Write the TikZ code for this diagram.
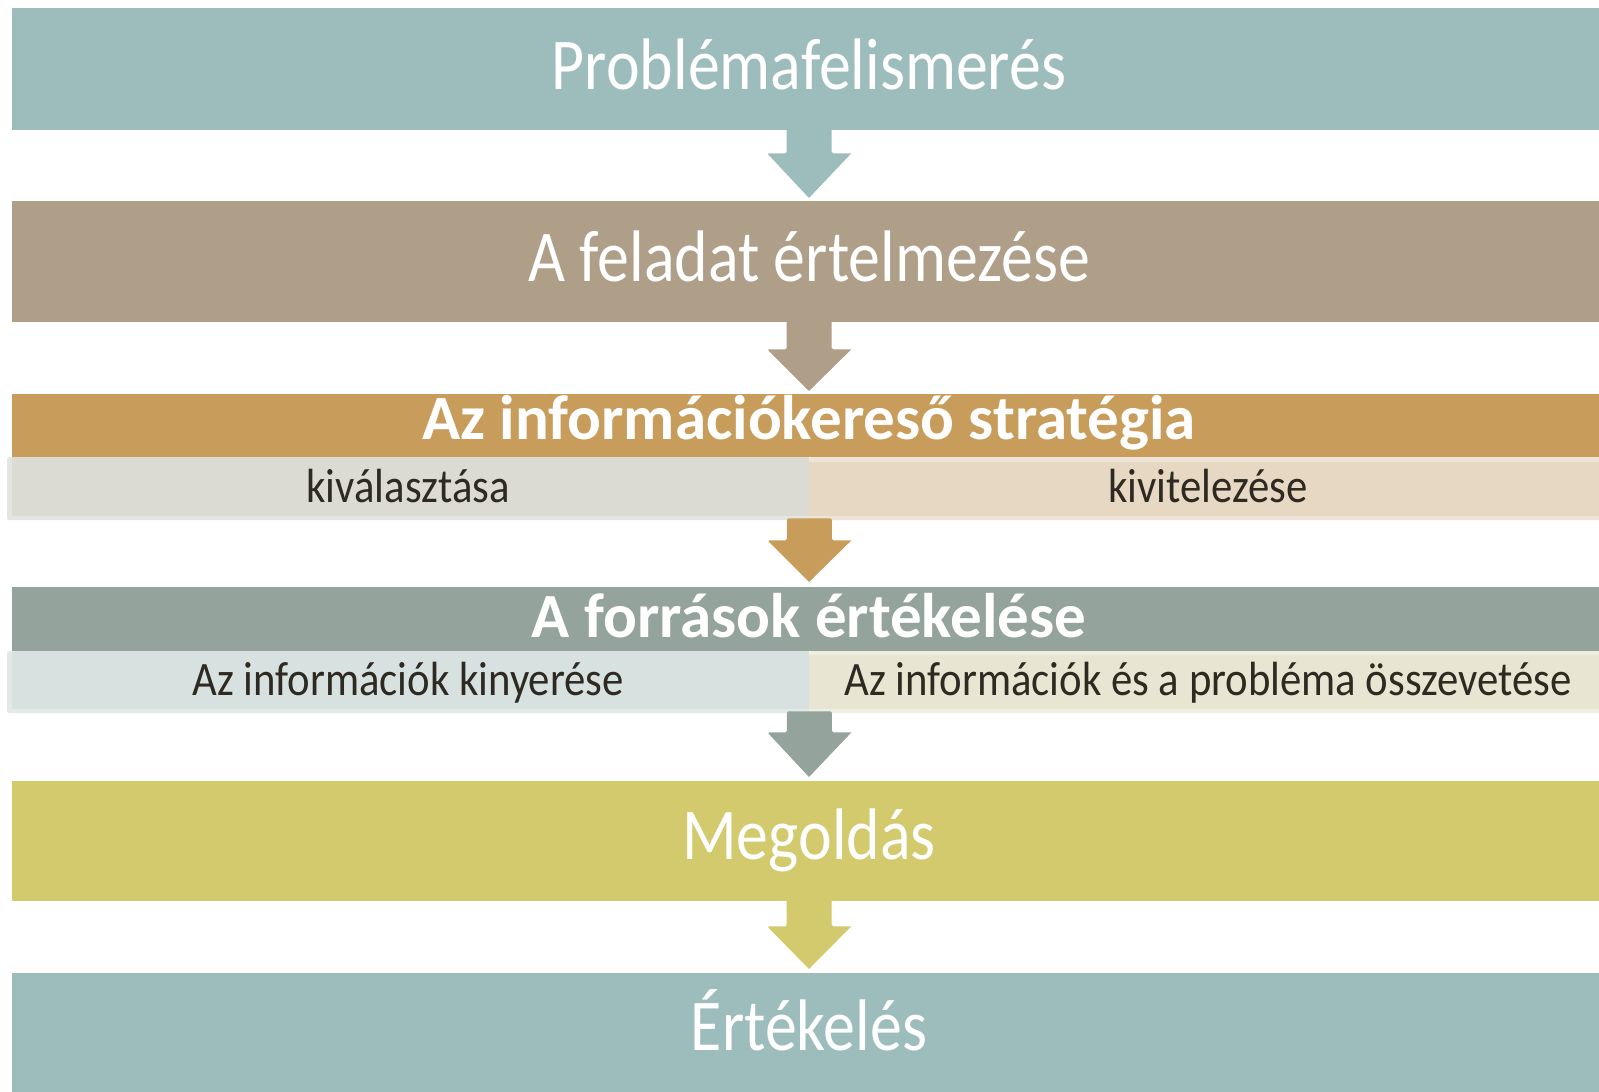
\documentclass[tikz,border=0pt]{standalone}
\usepackage{fontspec}
\setmainfont{Carlito}
\newfontfamily\condf[FakeStretch=0.875]{Carlito}
\newfontfamily\subf[FakeStretch=0.89]{Carlito}
\usetikzlibrary{calc}
\definecolor{cA}{HTML}{9DBDBC}
\definecolor{cB}{HTML}{AF9E88}
\definecolor{cC}{HTML}{C89D5C}
\definecolor{cD}{HTML}{94A39B}
\definecolor{cE}{HTML}{D2CA6C}
\definecolor{sLa}{HTML}{DBDBD4}
\definecolor{sLaB}{HTML}{E3E5E3}
\definecolor{sRa}{HTML}{E7D8C4}
\definecolor{sRaB}{HTML}{EEE3D6}
\definecolor{sLb}{HTML}{D7E1DF}
\definecolor{sLbB}{HTML}{E2E9E7}
\definecolor{sRb}{HTML}{E8E6D2}
\definecolor{sRbB}{HTML}{EFEEE0}
\definecolor{darktext}{HTML}{2E2A22}
\newcommand\flowarrow[4]{%
  \fill[#1, rounded corners=1.5pt] ($(#2)+(-22.5,-2)$) -- ($(#2)+(-22.5,#4)$) -- ($(#2)+(-42,#4)$)
    [sharp corners] -- (#3) -- ($(#2)+(42,#4)$) [rounded corners=1.5pt] -- ($(#2)+(22.5,#4)$) -- ($(#2)+(22.5,-2)$) -- cycle;}
\begin{document}
\begin{tikzpicture}[x=1pt,y=-1pt,
  bar/.style={rectangle, inner sep=0pt, minimum width=1594pt, anchor=north west},
  sub/.style={rectangle, inner sep=0pt, anchor=north west, rounded corners=2pt},
  maintxt/.style={anchor=base, text=white, inner sep=0pt, font=\condf\fontsize{73}{80}\selectfont},
  headtxt/.style={anchor=base, text=white, inner sep=0pt, font=\bfseries\fontsize{63}{68}\selectfont},
  subtxt/.style={anchor=base, text=darktext, inner sep=0pt, font=\subf\fontsize{48}{54}\selectfont}]
\useasboundingbox (0,0) rectangle (1599,1092);
\fill[white] (0,0) rectangle (1599,1092);
% bars
\node[bar, fill=cA, minimum height=122pt] (b1) at (12,8) {};
\node[bar, fill=cB, minimum height=121pt] (b2) at (12,201) {};
\node[bar, fill=cC, minimum height=63pt] (h3) at (12,394) {};
\node[sub, fill=sLaB, minimum width=802pt, minimum height=63pt] (s3lo) at (7,457) {};
\node[sub, fill=sRaB, minimum width=800pt, minimum height=63pt] (s3ro) at (809,457) {};
\fill[sLa] (12,457) rectangle (809,516);
\fill[sRa] (809,462) rectangle (1606,516);
\node[bar, fill=cD, minimum height=64pt] (h4) at (12,587) {};
\node[sub, fill=sLbB, minimum width=802pt, minimum height=62pt] (s4lo) at (7,651) {};
\node[sub, fill=sRbB, minimum width=800pt, minimum height=62pt] (s4ro) at (809,651) {};
\fill[sLb] (12,651) rectangle (809,709);
\fill[sRb] (809,655) rectangle (1606,709);
\node[bar, fill=cE, minimum height=120pt] (b5) at (12,781) {};
\node[bar, fill=cA, minimum height=130pt] (b6) at (12,973) {};
% texts
\node[maintxt] (t1) at (809,89) {Problémafelismerés};
\node[maintxt] (t2) at (809,281) {A feladat értelmezése};
\node[headtxt] (t3) at (809,439) {Az információkereső stratégia};
\node[subtxt] (t3l) at (408,502) {kiválasztása};
\node[subtxt] (t3r) at (1208,502) {kivitelezése};
\node[headtxt] (t4) at (809,637) {A források értékelése};
\node[subtxt] (t4l) at (408,695) {Az információk kinyerése};
\node[subtxt] (t4r) at (1208,695) {Az információk és a probléma összevetése};
\node[maintxt] (t5) at (809,859) {Megoldás};
\node[maintxt] (t6) at (809,1050) {Értékelés};
% arrows
\coordinate (a1s) at (b1.south);
\coordinate (a1t) at (809,198);
\coordinate (a2s) at (b2.south);
\coordinate (a2t) at (809,391);
\coordinate (a3s) at (s3lo.south east);
\coordinate (a3t) at (809,582);
\coordinate (a4s) at (s4lo.south east);
\coordinate (a4t) at (809,777);
\coordinate (a5s) at (b5.south);
\coordinate (a5t) at (809,969);
\flowarrow{cA}{a1s}{a1t}{23}
\flowarrow{cB}{a2s}{a2t}{27}
\flowarrow{cC}{a3s}{a3t}{20}
\flowarrow{cD}{a4s}{a4t}{19}
\flowarrow{cE}{a5s}{a5t}{25}
\end{tikzpicture}
\end{document}
